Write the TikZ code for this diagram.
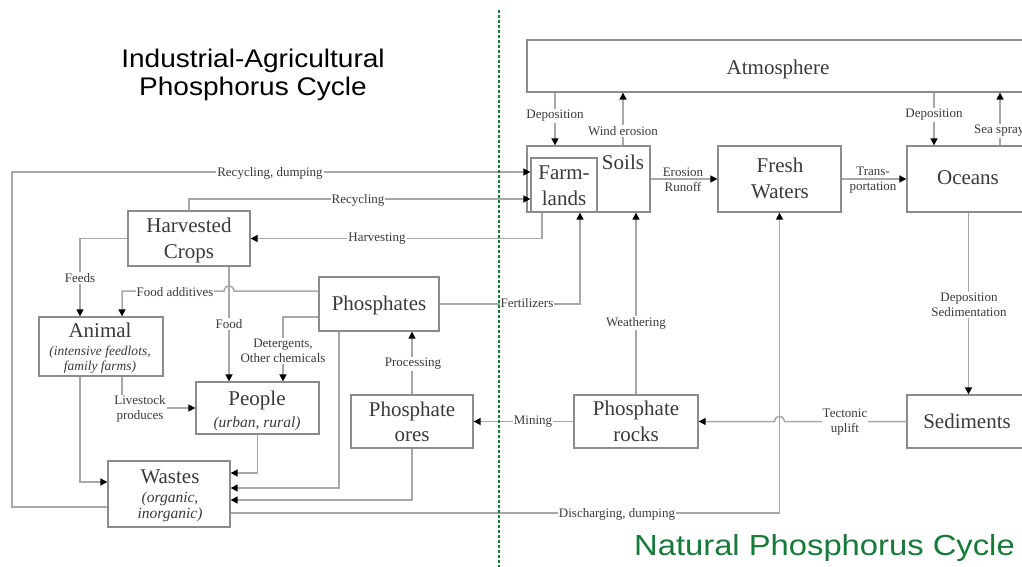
\documentclass[tikz,border=0pt]{standalone}
\usepackage{fontspec}
\setmainfont{Liberation Serif}
\newfontfamily\titlefont{Liberation Sans}
\usepackage{graphicx}
\usetikzlibrary{arrows.meta}
\definecolor{boxc}{HTML}{8C8C8C}
\definecolor{linec}{HTML}{A8A8A8}
\definecolor{txtc}{HTML}{3A3A3A}
\definecolor{greenc}{HTML}{17793A}
\begin{document}
\begin{tikzpicture}[x=1pt,y=-1pt,
  box/.style={draw=boxc, line width=1.3pt, fill=white, inner sep=0pt},
  big/.style={text=txtc, anchor=mid, inner sep=0pt, yshift=-4pt, font=\fontsize{21}{24}\selectfont},
  sub/.style={text=txtc, anchor=mid, inner sep=0pt, yshift=-3pt, font=\fontsize{15.5}{18}\selectfont\itshape},
  subs/.style={text=txtc, anchor=mid, inner sep=0pt, yshift=-2pt, font=\fontsize{13.5}{16}\selectfont\itshape},
  lbl/.style={text=txtc, fill=white, inner sep=1pt, yshift=-1pt, font=\fontsize{13}{15}\selectfont, align=center},
  lbln/.style={text=txtc, inner sep=1pt, yshift=-1pt, font=\fontsize{13}{15}\selectfont, align=center},
  conn/.style={draw=linec, line width=1.5pt},
  arr/.style={conn, -{Triangle[length=7pt,width=7pt,color=black]}},
]
\useasboundingbox[fill=white] (0,0) rectangle (1022,567);

% titles
\node[anchor=base, inner sep=0pt, font=\titlefont\fontsize{25.5}{28}\selectfont] (title1) at (253,68) {\scalebox{1.1}[1]{Industrial-Agricultural}};
\node[anchor=base, inner sep=0pt, font=\titlefont\fontsize{25.5}{28}\selectfont] (title2) at (253,96) {\scalebox{1.1}[1]{Phosphorus Cycle}};
\node[anchor=base east, inner sep=0pt, text=greenc, font=\titlefont\fontsize{29}{32}\selectfont] (title3) at (1015,555) {\scalebox{1.13}[1]{Natural Phosphorus Cycle}};

% boxes
\node[box, minimum width=503pt, minimum height=52pt] (atm) at (778.5,66) {};
\node[box, minimum width=123pt, minimum height=66pt] (soils) at (588.5,179) {};
\node[box, minimum width=66pt, minimum height=54pt] (farm) at (564,185) {};
\node[box, minimum width=123pt, minimum height=66pt] (fresh) at (779.5,179) {};
\node[box, minimum width=123pt, minimum height=66pt] (oceans) at (968.5,179) {};
\node[box, minimum width=123pt, minimum height=53pt] (sed) at (968.5,421.5) {};
\node[box, minimum width=124pt, minimum height=53pt] (rocks) at (636,421.5) {};
\node[box, minimum width=122pt, minimum height=53pt] (ores) at (412,421.5) {};
\node[box, minimum width=120pt, minimum height=54pt] (phos) at (379,304) {};
\node[box, minimum width=122pt, minimum height=55pt] (crops) at (189,238.5) {};
\node[box, minimum width=124pt, minimum height=59pt] (animal) at (101,346.5) {};
\node[box, minimum width=123pt, minimum height=52pt] (people) at (257.5,408) {};
\node[box, minimum width=122pt, minimum height=66pt] (wastes) at (169,494) {};

% box texts
\node[big] (tatm) at (778,68) {Atmosphere};
\node[big] (tfarm1) at (564,173) {Farm-};
\node[big] (tfarm2) at (564,199) {lands};
\node[big] (tsoils) at (623,163) {Soils};
\node[big] (tfresh1) at (780,166) {Fresh};
\node[big] (tfresh2) at (780,192) {Waters};
\node[big] (toce) at (968,178) {Oceans};
\node[big] (tsed) at (967,422) {Sediments};
\node[big] (trock1) at (636,409) {Phosphate};
\node[big] (trock2) at (636,435) {rocks};
\node[big] (tore1) at (412,410) {Phosphate};
\node[big] (tore2) at (412,435) {ores};
\node[big] (tphos) at (379,304) {Phosphates};
\node[big] (tcrop1) at (189,226) {Harvested};
\node[big] (tcrop2) at (189,252) {Crops};
\node[big] (tani1) at (100,331) {Animal};
\node[subs] (tani2) at (100,351) {(intensive feedlots,};
\node[subs] (tani3) at (100,366) {family farms)};
\node[big] (tpeo1) at (257,399) {People};
\node[sub] (tpeo2) at (257,422) {(urban, rural)};
\node[big] (twas1) at (170,477) {Wastes};
\node[sub] (twas2) at (170,497) {(organic,};
\node[sub] (twas3) at (170,513) {inorganic)};

% bend coordinates
\coordinate (xdepL) at (555,0);
\coordinate (xwind) at (623,0);
\coordinate (xdepR) at (934,0);
\coordinate (xsea) at (1000,0);
\coordinate (xfert) at (580,304);
\coordinate (harv) at (542,238.5);
\coordinate (rec) at (189,199);
\coordinate (recd1) at (12,507);
\coordinate (recd2) at (12,172);
\coordinate (feed) at (80,238.5);
\coordinate (food) at (229,0);
\coordinate (fadd) at (122,291);
\coordinate (det) at (283,317);
\coordinate (live) at (122,408);
\coordinate (anw) at (80,482);
\coordinate (peow) at (257.5,473);
\coordinate (phw) at (339,488);
\coordinate (orew) at (412,500);
\coordinate (disc) at (779.5,513);
\coordinate (hopT) at (779.5,421.5);
\coordinate (hopF) at (229,291);

% connectors
\draw[arr] (atm.south -| xdepL) -- (soils.north -| xdepL);
\draw[arr] (soils.north -| xwind) -- (atm.south -| xwind);
\draw[arr] (atm.south -| xdepR) -- (oceans.north -| xdepR);
\draw[arr] (oceans.north -| xsea) -- (atm.south -| xsea);
\draw[arr] (soils.east) -- (fresh.west);
\draw[arr] (fresh.east) -- (oceans.west);
\draw[arr] (oceans.south) -- (sed.north);
\draw[arr] (sed.west) -- ([xshift=5pt]hopT) .. controls ([xshift=4pt,yshift=7pt]hopT) and ([xshift=-4pt,yshift=7pt]hopT) .. ([xshift=-5pt]hopT) -- (rocks.east);
\draw[arr] (rocks.north) -- (soils.south -| rocks.north);
\draw[arr] (wastes.east |- disc) -- (disc) -- (fresh.south);
\draw[arr] (rocks.west) -- (ores.east);
\draw[arr] (phos.east) -- (xfert) -- (farm.south -| xfert);
\draw[arr] (farm.south -| harv) -- (harv) -- (crops.east);
\draw[arr] (crops.north) -- (rec) -- (farm.west |- rec);
\draw[arr] (wastes.west |- recd1) -- (recd1) -- (recd2) -- (farm.west |- recd2);
\draw[arr] (crops.west) -- (feed) -- (animal.north -| feed);
\draw[arr] (crops.south -| food) -- (people.north -| food);
\draw[arr] (phos.west |- fadd) -- ([xshift=5pt]hopF) .. controls ([xshift=4pt,yshift=7pt]hopF) and ([xshift=-4pt,yshift=7pt]hopF) .. ([xshift=-5pt]hopF) -- (fadd) -- (animal.north -| fadd);
\draw[arr] (phos.west |- det) -- (det) -- (people.north -| det);
\draw[arr] (animal.south -| live) -- (live) -- (people.west);
\draw[arr] (animal.south -| anw) -- (anw) -- (wastes.west |- anw);
\draw[arr] (people.south) -- (peow) -- (wastes.east |- peow);
\draw[arr] (phos.south -| phw) -- (phw) -- (wastes.east |- phw);
\draw[arr] (ores.south) -- (orew) -- (wastes.east |- orew);
\draw[arr] (ores.north) -- (phos.south -| ores.north);

% labels
\node[lbl] (ldep1) at (555,115) {Deposition};
\node[lbl] (lwind) at (623,130) {Wind erosion};
\node[lbl] (ldep2) at (934,114) {Deposition};
\node[lbl, anchor=west] (lsea) at (973,130) {Sea spray};
\node[lbln] (lero) at (683,179) {Erosion\\Runoff};
\node[lbln] (ltra) at (873,179) {Trans-\\portation};
\node[lbl] (ldsed) at (969,304) {Deposition\\Sedimentation};
\node[lbl] (ltec) at (845,421) {Tectonic\\uplift};
\node[lbl] (lweat) at (636,322) {Weathering};
\node[lbl] (lmin) at (533,421) {Mining};
\node[lbl] (lfert) at (527,302) {Fertilizers};
\node[lbl] (ldisc) at (617,513) {Discharging, dumping};
\node[lbl] (lrecd) at (270,172) {Recycling, dumping};
\node[lbl] (lrec) at (358,199) {Recycling};
\node[lbl] (lharv) at (377,238) {Harvesting};
\node[lbl] (lfeed) at (80,277) {Feeds};
\node[lbl] (lfadd) at (175,291) {Food additives};
\node[lbl] (lfood) at (229,323) {Food};
\node[lbl] (ldet) at (283,350) {Detergents,\\Other chemicals};
\node[lbl] (llive) at (140,408) {Livestock\\produces};
\node[lbl] (lproc) at (413,363) {Processing};

% divider
\coordinate (dtop) at (499,10);
\coordinate (dbot) at (499,567);
\draw[greenc, line width=1.2pt, dash pattern=on 3pt off 2pt] (dtop) -- (dbot);
\end{tikzpicture}
\end{document}
